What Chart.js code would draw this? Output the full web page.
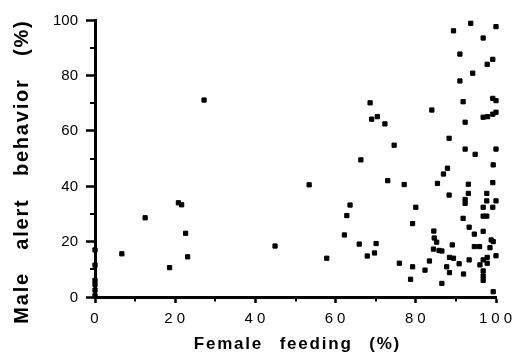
<!DOCTYPE html>
<html><head><meta charset="utf-8">
<script src="https://cdn.jsdelivr.net/npm/chart.js@4/dist/chart.umd.min.js"></script>
<style>html,body{margin:0;padding:0;background:#fff}#wrap{width:514px;height:359px}</style>
</head><body><div id="wrap"><canvas id="c" width="514" height="359"></canvas></div>
<script>
const femaleFeeding = [0,0,0,0,0,0,6.7,12.5,18.6,20.8,21.6,22.6,23.1,27.2,44.9,53.4,57.8,
62.2,62.8,63.6,65.9,66.3,67.9,68.6,69,69.7,70.1,70.4,72.3,73,74.6,75.9,77.1,78.7,79.2,79.2,80,82.3,83.4,
84,84.5,84.6,85.2,84.4,85.4,85.8,86.5,86.5,86.9,87.9,87.7,88.3,88.3,88.4,88.4,89.1,89.4,89.4,90.8,
91,91,91.8,91.9,91.8,92.3,92.3,92.3,92.3,93.1,93.1,93.3,93.3,93.7,94.2,94.6,94.6,94.8,95.9,96,
96.8,96.8,96.8,96.8,97.7,96.8,96.8,96.8,96.8,96.8,97.7,97.7,97.8,97.9,97.8,97.8,98.5,98.8,99.3,
99.2,99.2,99.2,99.2,99.2,99.3,99.3,100,100,100,100,100,100];
const maleAlert = [17,11.5,6,4.5,2.5,0.5,15.6,28.6,10.6,34,33.3,23,14.5,71.1,18.4,40.5,14,
22.4,29.4,33.2,19.1,49.5,14.8,70.1,64.2,15.9,19.3,65.1,62.5,42,54.8,12.2,40.6,6.4,10.9,26.5,32.4,9.7,13,
67.5,23.8,21.3,19.8,17.3,41,16.8,16.6,4.9,44.4,46.5,10.9,57.3,36.8,8.8,14.3,18.8,14,96.1,12,
87.7,78,70.5,8.3,28.4,63.1,53.4,33.8,35.2,40.7,37.4,25.2,13.4,98.8,80.8,22.7,18.2,51.5,18.2,11.6,
93.5,64.9,32.4,29.2,29.2,23.7,13.4,9.4,7.6,6,37.4,34.7,84,65.1,14.3,12.2,17.8,20.6,20,
85.8,71.7,66,41.3,32.4,47.7,1.9,97.6,70.9,66.7,53.4,34.7,14.9];
const xTicks = [0,20,40,60,80,100];
const yTicks = [0,20,40,60,80,100];
const minorTicks = [10,30,50,70,90];
const xTitle = 'Female feeding (%)';
const yTitle = 'Male alert behavior (%)';

const points = femaleFeeding.map((x,i)=>({x:x,y:maleAlert[i]}));
const FAM = '"Liberation Sans", Arial, Helvetica, sans-serif';

const canvas = document.getElementById('c');
const ctx0 = canvas.getContext('2d');
const protoFill = CanvasRenderingContext2D.prototype.fillText;
// spaced text: draws the string character by character with extra tracking
ctx0.fillText = function(text, x, y){
  const sp = this.__sp;
  if (!sp) return protoFill.apply(this, arguments);
  const chars = Array.from(String(text));
  const widths = chars.map(ch => this.measureText(ch).width + (ch === ' ' ? sp.ws : 0));
  const total = widths.reduce((a,b)=>a+b,0) + sp.ls*(chars.length-1);
  const align = this.textAlign;
  let cx = x + (sp.dx||0);
  if (align === 'center') cx -= total/2;
  else if (align === 'right' || align === 'end') cx -= total;
  this.textAlign = 'left';
  chars.forEach((ch,i)=>{ protoFill.call(this, ch, cx, y); cx += widths[i] + sp.ls; });
  this.textAlign = align;
};
function withSpacing(fn, sp, pre){
  return function(a){
    const c = this.ctx; c.save(); if (pre) pre(c);
    c.__sp = sp;
    try { fn.call(this, a); } finally { c.__sp = null; c.restore(); }
  };
}

const styling = {
  id:'styling',
  beforeDraw(chart){
    const xs = chart.scales.x, ys = chart.scales.y;
    if (!xs._patched){
      xs.drawLabels = withSpacing(xs.drawLabels, {ls:4, ws:0, dx:-0.5});
      xs.drawTitle = withSpacing(xs.drawTitle, {ls:1.8, ws:10, dx:1});
      ys.drawTitle = withSpacing(ys.drawTitle, {ls:1.8, ws:15, dx:0}, c => c.translate(0,14));
      xs._patched = true;
    }
  },
  afterDraw(chart){
    const xs = chart.scales.x, ys = chart.scales.y, c = chart.ctx;
    const left = xs.getPixelForValue(0), bottom = ys.getPixelForValue(0);
    c.save(); c.setTransform(1,0,0,1,0,0);
    c.strokeStyle='#000'; c.lineWidth=2;
    minorTicks.forEach(v=>{
      const px = Math.round(xs.getPixelForValue(v));
      c.beginPath(); c.moveTo(px, bottom); c.lineTo(px, bottom+4.5); c.stroke();
      const py = Math.round(ys.getPixelForValue(v));
      c.beginPath(); c.moveTo(left, py); c.lineTo(left-5, py); c.stroke();
    });
    // y tick labels, placed through the scales, left-aligned from measured width
    c.fillStyle = '#000'; c.font = '15px ' + FAM; c.textAlign = 'left'; c.textBaseline = 'middle';
    yTicks.forEach(v=>{
      const s = String(v);
      const w = c.measureText(s).width;
      protoFill.call(c, s, left - 17 - w, ys.getPixelForValue(v) + 0.5);
    });
    c.restore();
  }
};

new Chart(canvas, {
  type:'scatter',
  data:{datasets:[{data:points, pointStyle:'rect', pointRadius:3, pointBorderWidth:1,
    backgroundColor:'#000', borderColor:'#000', clip:false}]},
  options:{
    responsive:false, animation:false,
    layout:{padding:{top:20,right:18,bottom:0,left:0}},
    plugins:{legend:{display:false},tooltip:{enabled:false}},
    scales:{
      x:{type:'linear',min:0,max:100,
        afterBuildTicks: s => { s.ticks = xTicks.map(v=>({value:v})); },
        grid:{display:true,drawOnChartArea:false,drawTicks:true,tickLength:6,tickWidth:2.5,tickColor:'#000'},
        border:{display:true,color:'#000',width:3},
        ticks:{color:'#000',font:{family:FAM,size:15},padding:7,maxRotation:0,autoSkip:false},
        title:{display:true,text:xTitle,color:'#000',font:{family:FAM,size:17,weight:'bold'},padding:{top:4,bottom:4}},
        afterFit: s => { s.height = 62; s.paddingLeft = 0; s.paddingRight = 0; }
      },
      y:{type:'linear',min:0,max:100,
        afterBuildTicks: s => { s.ticks = yTicks.map(v=>({value:v})); },
        grid:{display:true,drawOnChartArea:false,drawTicks:true,tickLength:9,tickWidth:2.5,tickColor:'#000'},
        border:{display:true,color:'#000',width:3},
        ticks:{display:false,color:'#000',font:{family:FAM,size:15},padding:8,autoSkip:false},
        title:{display:true,text:yTitle,color:'#000',font:{family:FAM,size:20,weight:'bold'},padding:{top:10,bottom:4}},
        afterFit: s => { s.width = 95; s.paddingTop = 0; s.paddingBottom = 0; }
      }
    }
  },
  plugins:[styling]
});
</script></body></html>
